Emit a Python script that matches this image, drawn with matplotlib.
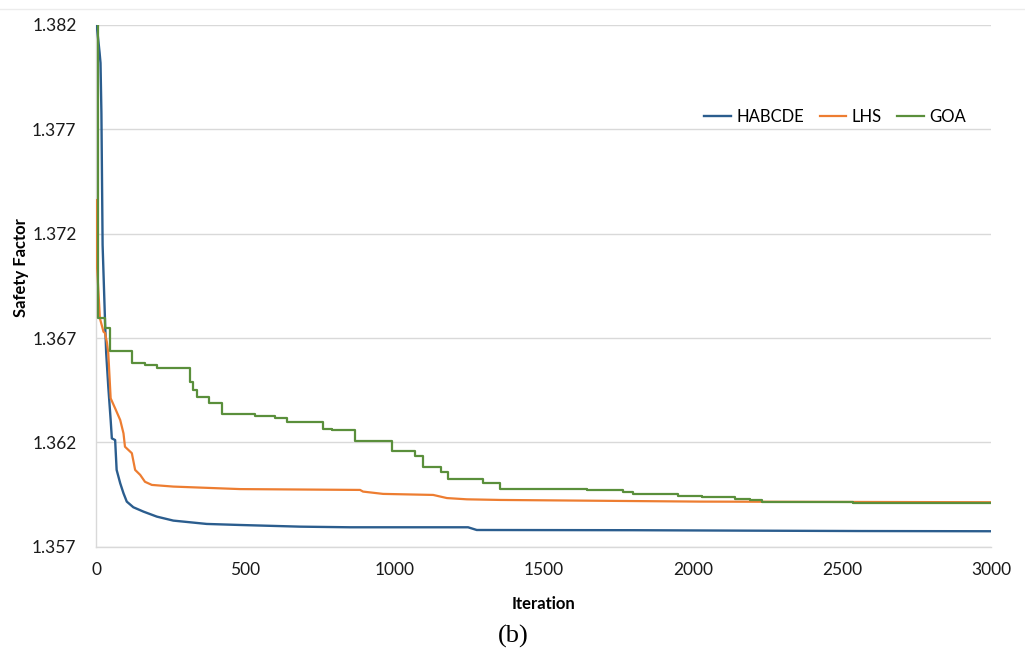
import matplotlib
matplotlib.use("Agg")
import matplotlib.pyplot as plt
from matplotlib.lines import Line2D
from matplotlib.ticker import FormatStrFormatter

plt.rcParams.update({
    "font.family": ["Lato", "DejaVu Sans"],
    "font.size": 12,
})

# convergence history (iteration, best safety factor)
habcde_iter = [0, 12, 15, 18, 22, 30, 34, 41, 49, 53, 64, 69, 81, 92, 103, 125,
               159, 204, 259, 315, 371, 483, 684, 851, 1247, 1276, 1800, 2159,
               2561, 3000]
habcde_val = [1.3823, 1.38066, 1.38018, 1.37778, 1.37146, 1.36786, 1.36628,
              1.36467, 1.36307, 1.36219, 1.36211, 1.36068, 1.36004, 1.35956,
              1.35916, 1.35889, 1.35868, 1.35844, 1.35825, 1.35817, 1.35809,
              1.35804, 1.35796, 1.35793, 1.35793, 1.35780, 1.35779, 1.35777,
              1.35775, 1.35774]

lhs_iter = [0, 3, 13, 25, 30, 36, 41, 49, 64, 81, 92, 97, 120, 131, 148, 164,
            187, 259, 483, 885, 895, 962, 1130, 1176, 1243, 1354, 2025, 3000]
lhs_val = [1.37361, 1.37050, 1.36794, 1.36730, 1.36724, 1.36682, 1.36628,
           1.36411, 1.36363, 1.36307, 1.36243, 1.36179, 1.36148, 1.36068,
           1.36044, 1.36011, 1.35996, 1.35988, 1.35976, 1.35972, 1.35964,
           1.35953, 1.35948, 1.35933, 1.35927, 1.35924, 1.35916, 1.35913]

goa_iter = [0, 7, 30, 47, 120, 164, 204, 315, 326, 337, 380, 421, 533, 600,
            639, 762, 790, 868, 991, 1069, 1097, 1155, 1181, 1298, 1354, 1645,
            1767, 1801, 1952, 2030, 2142, 2192, 2233, 2537, 2650, 3000]
goa_val = [1.3823, 1.36794, 1.36748, 1.36639, 1.36582, 1.36571, 1.36555,
           1.36491, 1.36451, 1.36419, 1.36387, 1.36334, 1.36328, 1.36318,
           1.36299, 1.36264, 1.36259, 1.36206, 1.36159, 1.36135, 1.36083,
           1.36059, 1.36023, 1.36004, 1.35976, 1.35972, 1.35964, 1.35951,
           1.35943, 1.35937, 1.35929, 1.35924, 1.35916, 1.35911, 1.35908,
           1.35908]

x_ticks = [0, 500, 1000, 1500, 2000, 2500, 3000]
y_ticks = [1.357, 1.362, 1.367, 1.372, 1.377, 1.382]

C_BLUE = "#2b5d8e"
C_ORANGE = "#ed7d31"
C_GREEN = "#5a8f3b"
GRID = "#d9d9d9"

fig = plt.figure(figsize=(10.25, 6.57), dpi=100)
ax = fig.add_axes([0.0937, 0.1679, 0.8732, 0.7941])

ax.plot(habcde_iter, habcde_val, color=C_BLUE, lw=1.7, label="HABCDE", zorder=3)
ax.plot(lhs_iter, lhs_val, color=C_ORANGE, lw=1.6, label="LHS", zorder=3)
ax.plot(goa_iter, goa_val, color=C_GREEN, lw=1.6, drawstyle="steps-post",
        label="GOA", zorder=3)

ax.set_xlim(x_ticks[0], x_ticks[-1])
ax.set_ylim(y_ticks[0], y_ticks[-1])
ax.set_xticks(x_ticks)
ax.set_yticks(y_ticks)
ax.yaxis.set_major_formatter(FormatStrFormatter("%.3f"))
ax.grid(axis="y", color=GRID, lw=1.0)
ax.set_axisbelow(True)

for s in ("top", "right"):
    ax.spines[s].set_visible(False)
for s in ("left", "bottom"):
    ax.spines[s].set_color(GRID)
    ax.spines[s].set_linewidth(1.0)

ax.tick_params(axis="both", length=0, labelsize=12.5, labelcolor="#1a1a1a")
ax.tick_params(axis="y", pad=14)
ax.tick_params(axis="x", pad=11)

ax.set_xlabel("Iteration", fontsize=12, fontweight="bold")
ax.set_ylabel("Safety Factor", fontsize=12, fontweight="bold")
ax.xaxis.set_label_coords(0.5, -0.094)
ax.yaxis.set_label_coords(-0.075, 0.535)

ax.legend(loc="center", bbox_to_anchor=(0.8257, 0.8242), bbox_transform=ax.transAxes,
          ncol=3, frameon=False, fontsize=12, handlelength=1.6, handletextpad=0.3,
          columnspacing=0.95, borderpad=0)

# faint outer border at the top of the chart area
fig.add_artist(Line2D([0, 1], [1 - 9 / 657, 1 - 9 / 657], color="#ececec", lw=1.0))

fig.text(0.5005, 1 - 636 / 657, "(b)", ha="center", va="center",
         fontsize=19, family=["Liberation Serif", "DejaVu Serif"])

fig.savefig("out.png", dpi=100)
